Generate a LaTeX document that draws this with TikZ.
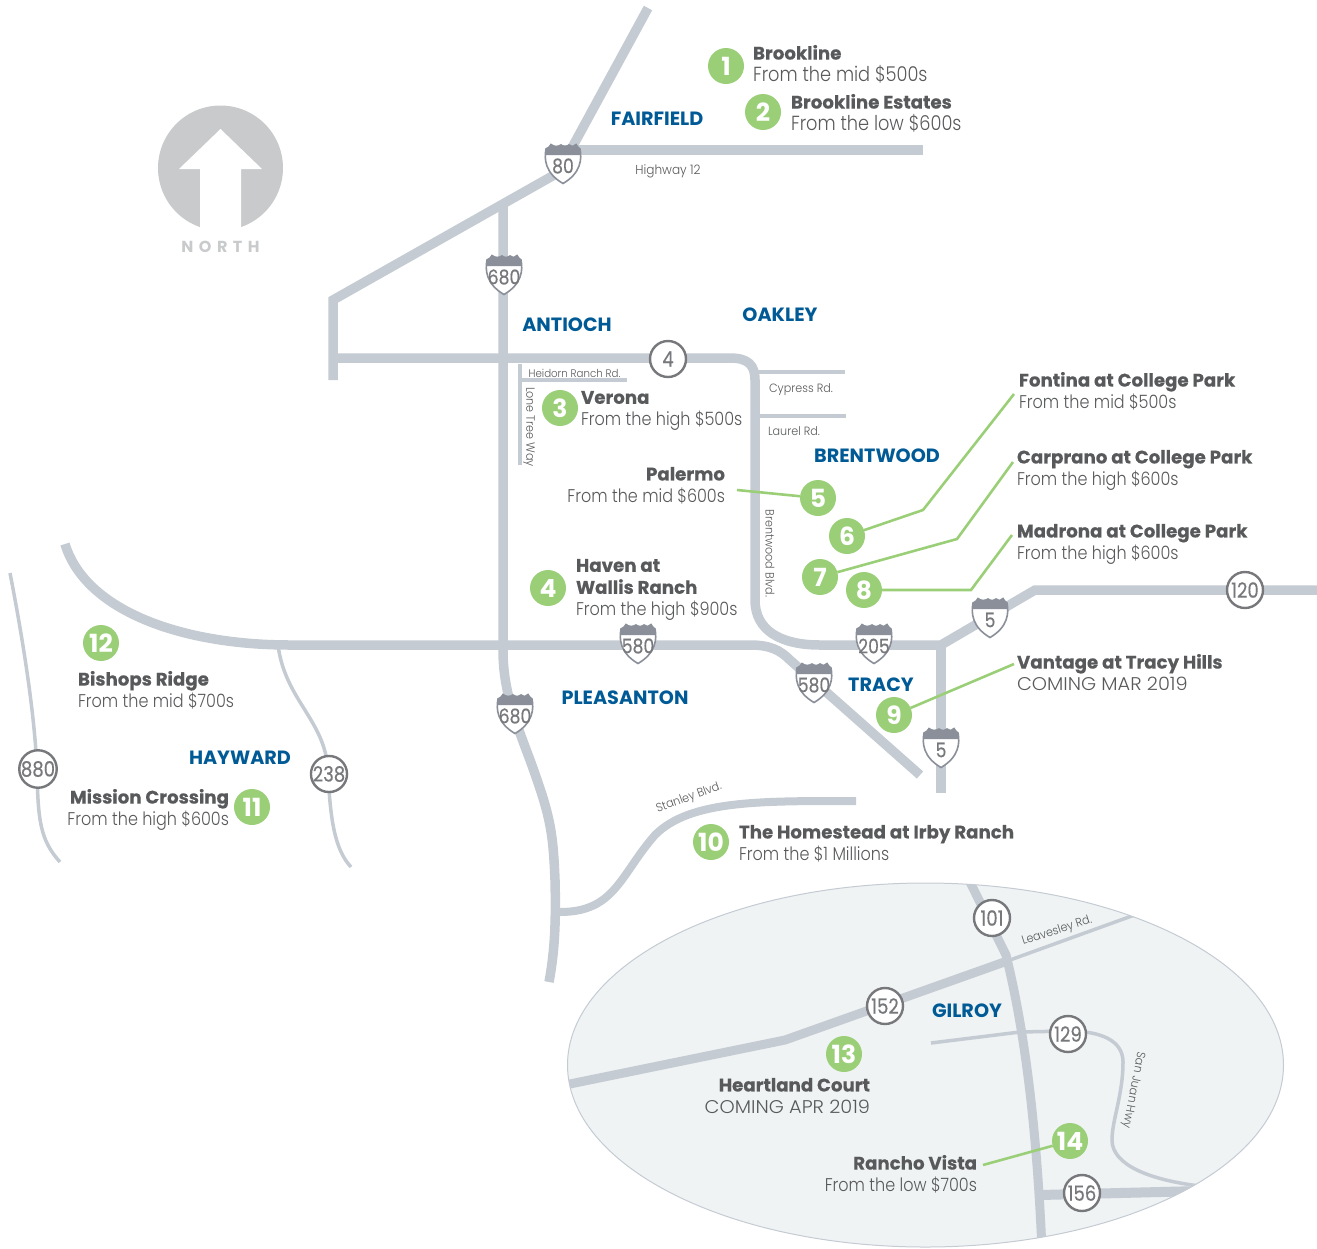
\documentclass[tikz,border=0pt]{standalone}
\usepackage{fontspec}
\setmainfont{Poppins}
\newfontfamily\lightf[FakeStretch=0.87]{Poppins Light}
\newfontfamily\capsf[FakeStretch=1.05]{Poppins Light}
\newfontfamily\numf[FakeStretch=0.86,FakeBold=0.35]{Poppins}
\newfontfamily\headf[FakeBold=0.3]{Poppins Bold}
\newfontfamily\smallf[FakeStretch=0.93]{Poppins Light}
\definecolor{road}{HTML}{C5CBD3}
\definecolor{pin}{HTML}{9ACF78}
\definecolor{city}{HTML}{005A96}
\definecolor{ink}{HTML}{58595B}
\definecolor{shieldc}{HTML}{8A8F99}
\definecolor{numc}{HTML}{77787B}
\definecolor{north}{HTML}{C8CACC}
\definecolor{lake}{HTML}{EFF3F4}
\newcommand{\hd}[1]{{\headf\fontsize{18.2}{22}\selectfont #1}}
\newcommand{\capsline}[1]{{\capsf #1}}
\tikzset{
 every node/.style={inner sep=0pt,outer sep=0pt},
 main/.style={draw=road,line width=9.5pt},
 thin road/.style={draw=road,line width=3.5pt},
 leader/.style={draw=pin,line width=2.6pt},
 pinmark/.style={circle,fill=pin,text=white,minimum size=36pt,font=\fontsize{25}{25}\selectfont\bfseries},
 routemark/.style={circle,draw=numc,line width=2.4pt,fill=white,text=numc,minimum size=36pt,font=\numf\fontsize{21}{21}\selectfont},
 citytext/.style={text=city,font=\fontsize{19.2}{19}\selectfont\bfseries},
 place/.style={text=ink,align=left,anchor=north west,font=\lightf\fontsize{18.4}{22}\selectfont},
 placer/.style={text=ink,align=right,anchor=north east,font=\lightf\fontsize{18.4}{22}\selectfont},
 placebig/.style={text=ink,align=left,anchor=north west,font=\lightf\fontsize{20.4}{22}\selectfont},
 roadlabel/.style={text=ink,font=\smallf\fontsize{12}{12}\selectfont},
}
\newcommand{\shieldmark}[3]{%
 \begin{scope}[shift={(#2)}]
  \path[fill=white,draw=shieldc,line width=1.6pt] (-17,-16) .. controls (-14,-17) and (-13,-19) .. (-12,-20.5) .. controls (-9,-18) and (-5,-18) .. (-2,-20) .. controls (1,-18) and (3,-18) .. (6,-20) .. controls (8,-18) and (10,-18) .. (13,-20.5) .. controls (14,-19) and (15,-17) .. (17,-16) .. controls (19,-6) and (18,8) .. (0,18.5) .. controls (-18,8) and (-19,-6) .. (-17,-16) -- cycle;
  \path[fill=shieldc] (-17,-16) .. controls (-14,-17) and (-13,-19) .. (-12,-20.5) .. controls (-9,-18) and (-5,-18) .. (-2,-20) .. controls (1,-18) and (3,-18) .. (6,-20) .. controls (8,-18) and (10,-18) .. (13,-20.5) .. controls (14,-19) and (15,-17) .. (17,-16) -- (17.8,-10) -- (-17.8,-10) -- cycle;
  \node[text=numc,font=\numf\fontsize{20}{20}\selectfont] (#1) at (0,1) {#3};
 \end{scope}}
\begin{document}
\begin{tikzpicture}[x=1pt,y=-1pt]
\useasboundingbox (0,0) rectangle (1317,1248);
% ellipse
\path[fill=lake,draw=road,line width=1pt] (925.5,1065) ellipse [x radius=358,y radius=182];
\begin{scope}
\clip (925.5,1065) ellipse [x radius=358,y radius=182];
\draw[draw=road,line width=9pt] (968,878) -- (1006,955) .. controls (1022,1020) and (1036,1110) .. (1042,1250);
\draw[draw=road,line width=9pt] (560,1086) -- (785,1040) -- (1010,960);
\draw[thin road] (1010,960) -- (1140,913);
\draw[draw=road,line width=10pt] (1040,1195) -- (1200,1191);
\draw[thin road] (931,1043) -- (1020,1032) -- (1068,1031) .. controls (1100,1031) and (1123,1040) .. (1123,1062) .. controls (1123,1095) and (1112,1120) .. (1112,1140) .. controls (1112,1165) and (1150,1180) .. (1200,1186);
\end{scope}
% main roads
\draw[main,line cap=butt] (648,8) -- (568,155);
\draw[main] (563,150) -- (923,150);
\draw[main] (563,170) -- (333,300) -- (333,380);
\draw[main] (503,202) -- (503,650) .. controls (503,690) and (515,720) .. (530,760) .. controls (550,815) and (553,830) .. (555,880) .. controls (556,920) and (555,950) .. (549,982);
\draw[main] (333,358) -- (730,358) .. controls (748,358) and (755,365) .. (755,380) -- (755,600) .. controls (755,630) and (780,645) .. (820,645) -- (941,645) -- (1035,590) -- (1317,590);
\draw[main] (65,544) .. controls (85,610) and (180,645) .. (290,645) -- (750,645) .. controls (770,645) and (780,650) .. (790,660) -- (920,775);
\draw[main] (941,645) -- (941,793);
\draw[main,line width=8pt] (856,801) .. controls (760,801) and (690,800) .. (655,835) .. controls (620,875) and (615,912) .. (560,912);
% thin roads
\draw[thin road] (520,364) -- (520,465);
\draw[thin road] (520,380) -- (627,380);
\draw[thin road] (755,372) -- (845,372);
\draw[thin road] (755,416) -- (846,416);
\draw[thin road] (278,645) .. controls (285,700) and (325,720) .. (328,770) .. controls (330,820) and (335,850) .. (351,867);
\draw[thin road] (10,573) .. controls (25,650) and (35,720) .. (37,770) .. controls (38,820) and (40,840) .. (60,862);
% north
\fill[north] (220.5,168) circle (62.5);
\fill[white] (220.5,129) -- (262,169) -- (241,169) -- (241,232) -- (200,232) -- (200,169) -- (179,169) -- cycle;
\node[text=north,font=\fontsize{16}{16}\selectfont\bfseries] (northlabel) at (220.5,247) {N\kern5.5pt O\kern5.5pt R\kern5.5pt T\kern5.5pt H};
% shields
\shieldmark{s80}{563,165}{80}
\shieldmark{s680a}{504,276}{680}
\shieldmark{s580a}{638,645}{580}
\shieldmark{s205}{874,645}{205}
\shieldmark{s580b}{814,684}{580}
\shieldmark{s680b}{515,715}{680}
\shieldmark{s5a}{990,619}{5}
\shieldmark{s5b}{941,749}{5}
% route marks
\node[routemark] (r4) at (668,359) {4};
\node[routemark] (r120) at (1245,590) {120};
\node[routemark] (r238) at (329,774) {238};
\node[routemark] (r880) at (38,769) {880};
\node[routemark] (r101) at (992,918) {101};
\node[routemark] (r152) at (885,1006) {152};
\node[routemark] (r129) at (1068,1034) {129};
\node[routemark] (r156) at (1082,1193) {156};
% cities
\node[citytext] (fairfield) at (657,119) {FAIRFIELD};
\node[citytext] (antioch) at (567,325) {ANTIOCH};
\node[citytext] (oakley) at (780,315) {OAKLEY};
\node[citytext] (brentwood) at (877,456) {BRENTWOOD};
\node[citytext] (tracy) at (881,685) {TRACY};
\node[citytext] (pleasanton) at (625,698) {PLEASANTON};
\node[citytext] (hayward) at (240,758) {HAYWARD};
\node[citytext] (gilroy) at (967,1011) {GILROY};
% road labels
\node[roadlabel,font=\smallf\fontsize{13}{13}\selectfont] (hw12) at (668,171) {Highway 12};
\node[roadlabel,font=\smallf\fontsize{11}{11}\selectfont] (heidorn) at (574.5,373) {Heidorn Ranch Rd.};
\node[roadlabel,rotate=-90] (lone) at (529,427) {Lone Tree Way};
\node[roadlabel] (cypress) at (801,390) {Cypress Rd.};
\node[roadlabel] (laurel) at (794,431) {Laurel Rd.};
\node[roadlabel,rotate=-90] (brentblvd) at (770,553.5) {Brentwood Blvd.};
\node[roadlabel,rotate=20] (stanley) at (689,798) {Stanley Blvd.};
\node[roadlabel,rotate=18] (leavesley) at (1057,931) {Leavesley Rd.};
\node[roadlabel,rotate=-101] (sanjuan) at (1133,1090) {San Juan Hwy};
% pins
\node[pinmark] (p1) at (726,66) {1};
\node[pinmark] (p2) at (763,112) {2};
\node[pinmark] (p3) at (560,408) {3};
\node[pinmark] (p4) at (548,588) {4};
\node[pinmark] (p5) at (818,498) {5};
\node[pinmark] (p6) at (847,536) {6};
\node[pinmark] (p7) at (820,577) {7};
\node[pinmark] (p8) at (864,590) {8};
\node[pinmark] (p9) at (894,715) {9};
\node[pinmark] (p10) at (711,842) {10};
\node[pinmark] (p11) at (252,807) {11};
\node[pinmark] (p12) at (101,643) {12};
\node[pinmark] (p13) at (844,1054) {13};
\node[pinmark] (p14) at (1070,1141) {14};
% labels
\node[placebig] (l1) at (753,45) {\hd{Brookline}\\From the mid \$500s};
\node[placebig] (l2) at (791,94) {\hd{Brookline Estates}\\From the low \$600s};
\node[place] (l3) at (581,391) {\hd{Verona}\\From the high \$500s};
\node[placer] (l5) at (725,467) {\hd{Palermo}\\From the mid \$600s};
\node[place] (l4) at (576,559) {\hd{Haven at}\\\hd{Wallis Ranch}\\From the high \$900s};
\node[place] (l6) at (1019,372) {\hd{Fontina at College Park}\\From the mid \$500s};
\node[place] (l7) at (1017,450) {\hd{Carprano at College Park}\\From the high \$600s};
\node[place] (l8) at (1017,524) {\hd{Madrona at College Park}\\From the high \$600s};
\node[place] (l9) at (1017,654) {\hd{Vantage at Tracy Hills}\\\capsline{COMING MAR 2019}};
\node[place] (l10) at (739,825) {\hd{The Homestead at Irby Ranch}\\From the \$1 Millions};
\node[placer] (l11) at (229,789) {\hd{Mission Crossing}\\From the high \$600s};
\node[place] (l12) at (78,671) {\hd{Bishops Ridge}\\From the mid \$700s};
\node[placer] (l13) at (870,1078) {\hd{Heartland Court}\\\capsline{COMING APR 2019}};
\node[placer] (l14) at (977,1155) {\hd{Rancho Vista}\\From the low \$700s};
% leaders
\coordinate (a5) at (737,490);
\coordinate (b6) at (923,510); \coordinate (a6) at (1014,394);
\coordinate (b7) at (957,539); \coordinate (a7) at (1013,462);
\coordinate (b8) at (971,590); \coordinate (a8) at (1012,535);
\coordinate (a9) at (1014,664);
\coordinate (a14) at (983,1165);
\draw[leader] (a5) -- (p5);
\draw[leader] (p6) -- (b6) -- (a6);
\draw[leader] (p7) -- (b7) -- (a7);
\draw[leader] (p8) -- (b8) -- (a8);
\draw[leader] (p9) -- (a9);
\draw[leader] (a14) -- (p14);
\end{tikzpicture}
\end{document}
